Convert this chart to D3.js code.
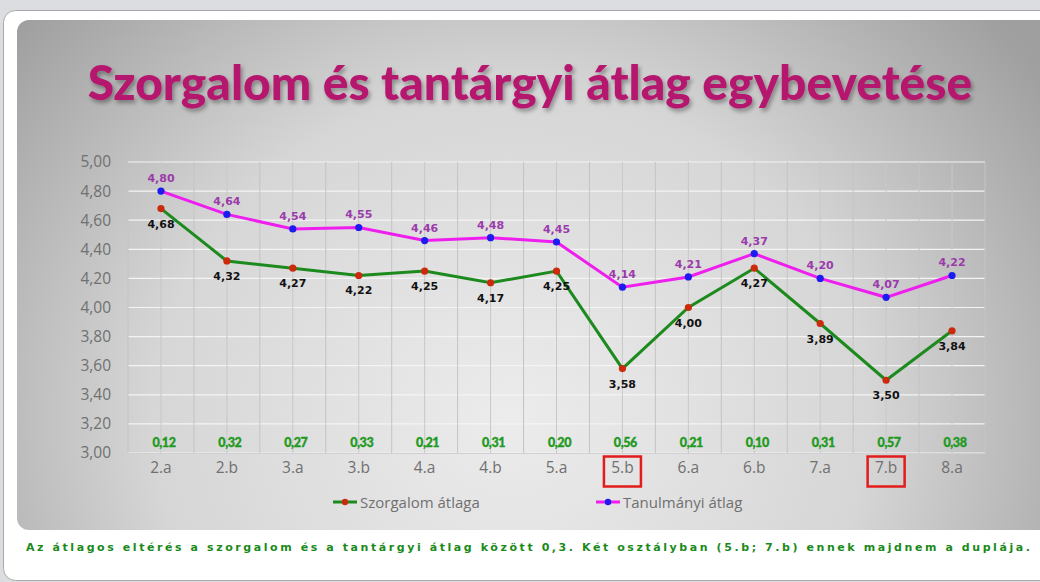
<!DOCTYPE html>
<html>
<head>
<meta charset="utf-8">
<script src="https://cdn.jsdelivr.net/npm/d3@7"></script>
<style>
  html, body { margin: 0; padding: 0; background: #dcdde0; }
  svg { display: block; }
</style>
</head>
<body>
<svg id="chart" width="1040" height="582"></svg>
<script>
// Szorgalom vs tantárgyi átlag, osztályonként
const classes = ["2.a", "2.b", "3.a", "3.b", "4.a", "4.b", "5.a", "5.b", "6.a", "6.b", "7.a", "7.b", "8.a"];
const szorgalom = [4.68, 4.32, 4.27, 4.22, 4.25, 4.17, 4.25, 3.58, 4.00, 4.27, 3.89, 3.50, 3.84];
const tanulmanyi = [4.80, 4.64, 4.54, 4.55, 4.46, 4.48, 4.45, 4.14, 4.21, 4.37, 4.20, 4.07, 4.22];
const differences = [0.12, 0.32, 0.27, 0.33, 0.21, 0.31, 0.20, 0.56, 0.21, 0.10, 0.31, 0.57, 0.38];
const yTicks = [3.0, 3.2, 3.4, 3.6, 3.8, 4.0, 4.2, 4.4, 4.6, 4.8, 5.0];
const highlighted = ["5.b", "7.b"];
const seriesNames = ["Szorgalom átlaga", "Tanulmányi átlag"];

const svg = d3.select("#chart");
const W = 1040, H = 582;
const fmt = v => d3.format(".2f")(v).replace(".", ",");

const defs = svg.append("defs");
const grad = defs.append("radialGradient")
  .attr("id", "panelGrad")
  .attr("cx", "0.47").attr("cy", "0.78").attr("r", "0.62")
  .attr("gradientTransform", "translate(0.47,0.78) scale(1,1.9) translate(-0.47,-0.78)");
grad.append("stop").attr("offset", "0").attr("stop-color", "#ececec");
grad.append("stop").attr("offset", "0.55").attr("stop-color", "#d6d6d6");
grad.append("stop").attr("offset", "1").attr("stop-color", "#9f9f9f");

const shadow = defs.append("filter").attr("id", "titleShadow")
  .attr("x", "-5%").attr("y", "-20%").attr("width", "110%").attr("height", "150%");
shadow.append("feDropShadow")
  .attr("dx", 2).attr("dy", 3).attr("stdDeviation", 2)
  .attr("flood-color", "#000").attr("flood-opacity", 0.35);

// white card + gray panel
svg.append("rect")
  .attr("x", 3.5).attr("y", 10.5).attr("width", W + 20).attr("height", 570)
  .attr("rx", 12).attr("fill", "#fff").attr("stroke", "#a9a9a9");
svg.append("rect")
  .attr("x", 17).attr("y", 20).attr("width", W + 10).attr("height", 510)
  .attr("rx", 12).attr("fill", "url(#panelGrad)");

// title
const title = svg.append("text")
  .attr("x", 530).attr("y", 100)
  .attr("text-anchor", "middle")
  .attr("fill", "#b5166e")
  .attr("font-family", "Lato, 'Open Sans', sans-serif")
  .attr("font-weight", "900")
  .attr("font-size", 50)
  .attr("filter", "url(#titleShadow)")
  .text("Szorgalom és tantárgyi átlag egybevetése");
const tw = title.node().getComputedTextLength();
title.attr("font-size", 50 * 885 / tw);

// scales
const margin = { left: 128, right: 985, top: 162, bottom: 453 };
const x = d3.scaleBand().domain(classes).range([margin.left, margin.right]);
const cx = c => x(c) + x.bandwidth() / 2;
const y = d3.scaleLinear().domain([3, 5]).range([margin.bottom, margin.top]);

const g = svg.append("g");

// horizontal gridlines
g.selectAll(".hgrid").data(yTicks).join("line")
  .attr("x1", margin.left).attr("x2", margin.right)
  .attr("y1", d => y(d)).attr("y2", d => y(d))
  .attr("stroke", "#f4f4f4").attr("stroke-width", 1.2);

// vertical gridlines: band edges and band centres
const edges = classes.map(c => x(c)).concat([margin.right]);
g.selectAll(".vedge").data(edges).join("line")
  .attr("x1", d => d).attr("x2", d => d)
  .attr("y1", margin.top).attr("y2", margin.bottom)
  .attr("stroke", "#c4c4c4").attr("stroke-width", 1);
g.selectAll(".vmid").data(classes).join("line")
  .attr("x1", d => cx(d)).attr("x2", d => cx(d))
  .attr("y1", margin.top).attr("y2", margin.bottom)
  .attr("stroke", "#c8c8c8").attr("stroke-width", 1);

// y axis
const yAxis = g.append("g")
  .attr("transform", `translate(${margin.left - 14},0)`)
  .call(d3.axisLeft(y).tickValues(yTicks).tickSize(0).tickFormat(fmt));
yAxis.select(".domain").remove();
yAxis.selectAll("text")
  .attr("fill", "#707070")
  .attr("font-family", "'Open Sans', sans-serif")
  .attr("font-size", 15.5);

// x axis
const xAxis = g.append("g")
  .attr("transform", `translate(0,${margin.bottom})`)
  .call(d3.axisBottom(x).tickSize(0).tickPadding(9));
xAxis.select(".domain").attr("stroke", "#d0d0d0");
xAxis.selectAll("text")
  .attr("fill", "#707070")
  .attr("font-family", "'Open Sans', sans-serif")
  .attr("font-size", 15.5);

// red boxes around highlighted classes
g.selectAll(".hl").data(highlighted).join("rect")
  .attr("x", d => cx(d) - 18.5).attr("y", margin.bottom + 3.5)
  .attr("width", 37).attr("height", 30)
  .attr("fill", "none").attr("stroke", "#e21b1b").attr("stroke-width", 2.5);

// lines
const line = d3.line().x((d, i) => cx(classes[i])).y(d => y(d));
g.append("path").datum(szorgalom)
  .attr("d", line).attr("fill", "none")
  .attr("stroke", "#1d8a1d").attr("stroke-width", 3);
g.append("path").datum(tanulmanyi)
  .attr("d", line).attr("fill", "none")
  .attr("stroke", "#ee1fee").attr("stroke-width", 3);

g.selectAll(".dotS").data(szorgalom).join("circle")
  .attr("cx", (d, i) => cx(classes[i])).attr("cy", d => y(d))
  .attr("r", 3.6).attr("fill", "#cc2a0c");
g.selectAll(".dotT").data(tanulmanyi).join("circle")
  .attr("cx", (d, i) => cx(classes[i])).attr("cy", d => y(d))
  .attr("r", 3.6).attr("fill", "#1c1cf0");

// data labels
g.selectAll(".labT").data(tanulmanyi).join("text")
  .attr("x", (d, i) => cx(classes[i])).attr("y", d => y(d) - 9)
  .attr("text-anchor", "middle")
  .attr("fill", "#9b3bab")
  .attr("font-family", "'DejaVu Sans', Verdana, sans-serif")
  .attr("font-weight", "700").attr("font-size", 11)
  .text(fmt);
g.selectAll(".labS").data(szorgalom).join("text")
  .attr("x", (d, i) => cx(classes[i])).attr("y", d => y(d) + 19)
  .attr("text-anchor", "middle")
  .attr("fill", "#111")
  .attr("font-family", "'DejaVu Sans', Verdana, sans-serif")
  .attr("font-weight", "700").attr("font-size", 11)
  .text(fmt);

// differences along the bottom
g.selectAll(".diff").data(differences).join("text")
  .attr("x", (d, i) => cx(classes[i]) + 3).attr("y", margin.bottom - 6)
  .attr("text-anchor", "middle")
  .attr("fill", "#1f9a1f")
  .attr("stroke", "#1f9a1f").attr("stroke-width", 0.35)
  .attr("font-family", "Lato, sans-serif")
  .attr("font-weight", "900").attr("font-size", 12.5)
  .attr("letter-spacing", -0.4)
  .text(fmt);

// legend
const legendItems = [
  { name: seriesNames[0], x: 333, line: "#1d8a1d", dot: "#cc2a0c" },
  { name: seriesNames[1], x: 596, line: "#ee1fee", dot: "#1c1cf0" }
];
const lg = g.selectAll(".legend").data(legendItems).join("g")
  .attr("transform", d => `translate(${d.x},502)`);
lg.append("line").attr("x1", 0).attr("x2", 24)
  .attr("stroke", d => d.line).attr("stroke-width", 3);
lg.append("circle").attr("cx", 12).attr("r", 3.2).attr("fill", d => d.dot);
lg.append("text").attr("x", 27).attr("y", 5.5)
  .attr("fill", "#707070")
  .attr("font-family", "'Open Sans', sans-serif")
  .attr("font-size", 15)
  .text(d => d.name);

// footer note
svg.append("text")
  .attr("x", 26).attr("y", 551)
  .attr("fill", "#1a8a1a")
  .attr("font-family", "'DejaVu Sans', Verdana, sans-serif")
  .attr("font-weight", "700").attr("font-size", 11)
  .attr("textLength", 1004).attr("lengthAdjust", "spacing")
  .text("Az átlagos eltérés a szorgalom és a tantárgyi átlag között 0,3. Két osztályban (5.b; 7.b) ennek majdnem a duplája.");
</script>
</body>
</html>
